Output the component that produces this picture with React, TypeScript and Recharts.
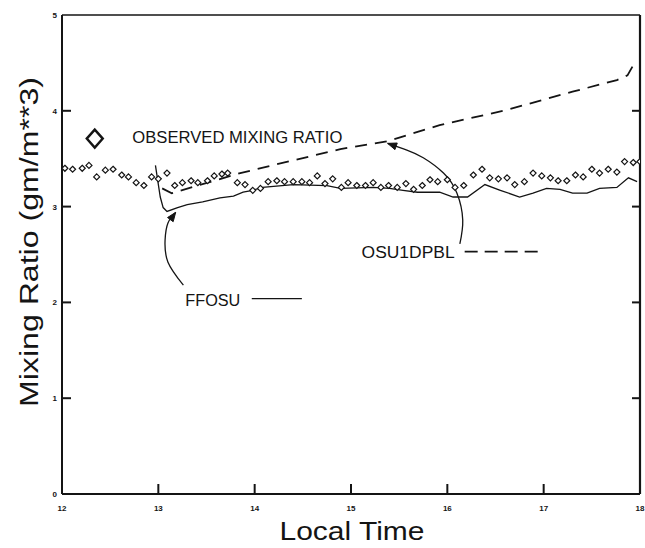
import { ComposedChart, Line, XAxis, YAxis, ReferenceDot, ReferenceLine } from 'recharts';

// ─── axis ticks ──────────────────────────────────────────────────────────────

const HOUR_TICKS = [12, 13, 14, 15, 16, 17, 18];
const RATIO_TICKS = [0, 1, 2, 3, 4, 5];

// ─── observed mixing ratio (local time in hours, g/m**3) ─────────────────────

const observedTime = [
  12.03, 12.11, 12.21, 12.28, 12.36, 12.45, 12.53, 12.62, 12.69, 12.77, 12.85, 12.93,
  13.0, 13.09, 13.17, 13.25, 13.34, 13.41, 13.51, 13.58, 13.66, 13.72, 13.82, 13.9,
  13.98, 14.06, 14.14, 14.23, 14.31, 14.4, 14.49, 14.57, 14.65, 14.73, 14.81, 14.9,
  14.97, 15.06, 15.15, 15.23, 15.31, 15.39, 15.48, 15.57, 15.65, 15.74, 15.82, 15.9,
  16.0, 16.08, 16.17, 16.27, 16.36, 16.44, 16.53, 16.62, 16.7, 16.8, 16.89, 16.98,
  17.07, 17.15, 17.24, 17.33, 17.41, 17.5, 17.58, 17.67, 17.76, 17.84, 17.93, 18.0,
];
const observedRatio = [
  3.4, 3.39, 3.4, 3.43, 3.31, 3.38, 3.39, 3.33, 3.31, 3.25, 3.22, 3.31,
  3.29, 3.35, 3.22, 3.25, 3.27, 3.25, 3.27, 3.32, 3.34, 3.35, 3.25, 3.23,
  3.17, 3.19, 3.26, 3.27, 3.26, 3.26, 3.26, 3.25, 3.32, 3.24, 3.29, 3.2,
  3.25, 3.22, 3.22, 3.25, 3.2, 3.22, 3.2, 3.24, 3.18, 3.22, 3.28, 3.26,
  3.28, 3.2, 3.22, 3.33, 3.39, 3.3, 3.29, 3.3, 3.23, 3.26, 3.35, 3.32,
  3.3, 3.27, 3.27, 3.33, 3.31, 3.39, 3.35, 3.39, 3.36, 3.47, 3.46, 3.47,
];

// ─── FFOSU model (solid) ─────────────────────────────────────────────────────

const ffosuTime = [
  12.97, 13.02, 13.05, 13.09, 13.2, 13.3, 13.46, 13.64, 13.78, 13.88, 13.98, 14.08,
  14.4, 14.75, 14.89, 15.23, 15.4, 15.54, 15.69, 15.92, 16.06, 16.21, 16.39, 16.55,
  16.75, 16.89, 17.03, 17.17, 17.3, 17.45, 17.58, 17.76, 17.88, 17.97,
];
const ffosuRatio = [
  3.43, 3.1, 2.99, 2.95, 2.99, 3.02, 3.05, 3.09, 3.11, 3.15, 3.17, 3.2,
  3.23, 3.22, 3.19, 3.2, 3.19, 3.17, 3.15, 3.15, 3.1, 3.1, 3.23, 3.17,
  3.1, 3.14, 3.19, 3.18, 3.14, 3.14, 3.19, 3.2, 3.3, 3.26,
];

// ─── OSU1DPBL model (dashed) ─────────────────────────────────────────────────

const osuTime = [13.04, 13.14, 13.85, 14.89, 15.37, 15.92, 16.62, 17.3, 17.76, 17.87, 17.96];
const osuRatio = [3.19, 3.14, 3.35, 3.6, 3.68, 3.85, 4.01, 4.2, 4.32, 4.37, 4.53];

// ─── annotation arrows (label → curve) ───────────────────────────────────────

const ffosuArrowTime = [13.26, 13.1, 13.07, 13.1, 13.18];
const ffosuArrowRatio = [2.18, 2.42, 2.65, 2.83, 2.94];
const osuArrowTime = [16.13, 16.16, 16.1, 15.96, 15.75, 15.58, 15.38];
const osuArrowRatio = [2.61, 2.86, 3.14, 3.35, 3.51, 3.59, 3.66];

const zip = (t: number[], v: number[]) => t.map((x, i) => ({ t: x, v: v[i] }));

const observedData = zip(observedTime, observedRatio);
const ffosuData = zip(ffosuTime, ffosuRatio);
const osuData = zip(osuTime, osuRatio);
const ffosuArrow = zip(ffosuArrowTime, ffosuArrowRatio);
const osuArrow = zip(osuArrowTime, osuArrowRatio);

// ─── layout ──────────────────────────────────────────────────────────────────

const W = 645;
const H = 548;
const MARGIN = { top: 15, right: 5, bottom: 24, left: 0 };
const Y_AXIS_W = 62;
const X_AXIS_H = 30;
const PLOT_RIGHT = W - MARGIN.right;
const PLOT_BOTTOM = H - MARGIN.bottom - X_AXIS_H;
const PX_PER_HOUR = (PLOT_RIGHT - Y_AXIS_W) / 6;
const PX_PER_UNIT = (PLOT_BOTTOM - MARGIN.top) / 5;

const INK = '#141414';
const FONT = '"Liberation Sans", Arial, Helvetica, sans-serif';

// ─── ticks (drawn inward, like the original plot) ────────────────────────────

function LeftTick({ y, payload }: any) {
  return (
    <g>
      {payload.value !== 0 && payload.value !== 5 && (
        <line x1={Y_AXIS_W} y1={y} x2={Y_AXIS_W + 9} y2={y} stroke={INK} strokeWidth={2} />
      )}
      <text x={Y_AXIS_W - 5} y={y + 3} textAnchor="end" fontSize={8} fontWeight="bold" fill={INK} fontFamily={FONT}>
        {payload.value}
      </text>
    </g>
  );
}

function BottomTick({ x, payload }: any) {
  return (
    <g>
      {payload.value !== 12 && payload.value !== 18 && (
        <line x1={x} y1={PLOT_BOTTOM} x2={x} y2={PLOT_BOTTOM - 10} stroke={INK} strokeWidth={2} />
      )}
      <text x={x} y={PLOT_BOTTOM + 17} textAnchor="middle" fontSize={8} fontWeight="bold" fill={INK} fontFamily={FONT}>
        {payload.value}
      </text>
    </g>
  );
}

// ─── marks ───────────────────────────────────────────────────────────────────

function ObservedDot({ cx, cy, index }: any) {
  const r = 3;
  return (
    <path
      key={`obs-${index}`}
      d={`M${cx},${cy - r} L${cx + r},${cy} L${cx},${cy + r} L${cx - r},${cy} Z`}
      fill="#fff"
      stroke={INK}
      strokeWidth={1.2}
    />
  );
}

function arrowHead(points: { t: number; v: number }[]) {
  return ({ cx, cy, index }: any) => {
    if (index !== points.length - 1) return <g key={`a-${index}`} />;
    const a = points[index - 1];
    const b = points[index];
    const ang = Math.atan2(-(b.v - a.v) * PX_PER_UNIT, (b.t - a.t) * PX_PER_HOUR);
    const L = 9;
    const Wd = 3.5;
    const bx = cx - L * Math.cos(ang);
    const by = cy - L * Math.sin(ang);
    const px = -Math.sin(ang) * Wd;
    const py = Math.cos(ang) * Wd;
    return (
      <path
        key={`a-${index}`}
        d={`M${cx},${cy} L${bx + px},${by + py} L${bx - px},${by - py} Z`}
        fill={INK}
        stroke={INK}
        strokeWidth={1}
      />
    );
  };
}

function textShape(label: string, size: number, length: number) {
  return ({ cx, cy }: any) => (
    <text
      x={cx}
      y={cy}
      fontSize={size}
      fill={INK}
      fontFamily={FONT}
      textLength={length}
      lengthAdjust="spacingAndGlyphs"
    >
      {label}
    </text>
  );
}

function LegendDiamond({ cx, cy }: any) {
  return (
    <path
      d={`M${cx},${cy - 9} L${cx + 8},${cy} L${cx},${cy + 9} L${cx - 8},${cy} Z`}
      fill="#fff"
      stroke={INK}
      strokeWidth={2.4}
    />
  );
}

// right-hand frame ticks, 8px long, pointing into the plot
const RIGHT_TICK_LEN = 8 / PX_PER_HOUR;

export default function App() {
  return (
    <div style={{ position: 'absolute', left: 0, top: 0, width: W, height: H, background: '#fff' }}>
      <ComposedChart width={W} height={H} margin={MARGIN}>
        <XAxis
          dataKey="t"
          type="number"
          domain={[12, 18]}
          ticks={HOUR_TICKS}
          interval={0}
          height={X_AXIS_H}
          axisLine={{ stroke: INK, strokeWidth: 2 }}
          tickLine={false}
          tick={<BottomTick />}
          allowDataOverflow
        />
        <YAxis
          type="number"
          domain={[0, 5]}
          ticks={RATIO_TICKS}
          interval={0}
          width={Y_AXIS_W}
          axisLine={{ stroke: INK, strokeWidth: 2 }}
          tickLine={false}
          tick={<LeftTick />}
          allowDataOverflow
        />

        {/* frame: top and right edges */}
        <ReferenceLine y={5} stroke={INK} strokeWidth={1.6} ifOverflow="visible" />
        <ReferenceLine x={18} stroke={INK} strokeWidth={2.2} ifOverflow="visible" />
        {RATIO_TICKS.filter((k) => k > 0 && k < 5).map((k) => (
          <ReferenceLine
            key={`rt-${k}`}
            segment={[{ x: 18 - RIGHT_TICK_LEN, y: k }, { x: 18, y: k }]}
            stroke={INK}
            strokeWidth={2}
            ifOverflow="visible"
          />
        ))}

        <Line
          data={osuData}
          dataKey="v"
          type="linear"
          stroke={INK}
          strokeWidth={1.8}
          strokeDasharray="12 8"
          dot={false}
          isAnimationActive={false}
        />
        <Line
          data={ffosuData}
          dataKey="v"
          type="linear"
          stroke={INK}
          strokeWidth={1.3}
          dot={false}
          isAnimationActive={false}
        />
        <Line
          data={observedData}
          dataKey="v"
          stroke="none"
          strokeWidth={0}
          dot={<ObservedDot />}
          isAnimationActive={false}
        />
        <Line
          data={ffosuArrow}
          dataKey="v"
          type="natural"
          stroke={INK}
          strokeWidth={1.3}
          dot={arrowHead(ffosuArrow)}
          isAnimationActive={false}
        />
        <Line
          data={osuArrow}
          dataKey="v"
          type="natural"
          stroke={INK}
          strokeWidth={1.3}
          dot={arrowHead(osuArrow)}
          isAnimationActive={false}
        />

        <ReferenceDot x={12.34} y={3.71} r={8} shape={<LegendDiamond />} />
        <ReferenceDot x={12.73} y={3.66} r={1} shape={textShape('OBSERVED MIXING RATIO', 16, 210)} />
        <ReferenceDot x={13.28} y={1.96} r={1} shape={textShape('FFOSU', 16, 55)} />
        <ReferenceDot x={15.11} y={2.46} r={1} shape={textShape('OSU1DPBL', 16, 93)} />
        <ReferenceLine segment={[{ x: 13.97, y: 2.04 }, { x: 14.49, y: 2.04 }]} stroke={INK} strokeWidth={1.3} />
        <ReferenceLine
          segment={[{ x: 16.18, y: 2.53 }, { x: 16.94, y: 2.53 }]}
          stroke={INK}
          strokeWidth={1.6}
          strokeDasharray="13 7"
        />
      </ComposedChart>

      <svg width={W} height={H} style={{ position: 'absolute', left: 0, top: 0, pointerEvents: 'none' }}>
        <text
          transform="translate(38,242) rotate(-90)"
          textAnchor="middle"
          fontSize={26}
          fill={INK}
          fontFamily={FONT}
          textLength={330}
          lengthAdjust="spacingAndGlyphs"
        >
          Mixing Ratio  (gm/m**3)
        </text>
        <text
          x={352}
          y={540}
          textAnchor="middle"
          fontSize={26}
          fill={INK}
          fontFamily={FONT}
          textLength={145}
          lengthAdjust="spacingAndGlyphs"
        >
          Local Time
        </text>
      </svg>
    </div>
  );
}
